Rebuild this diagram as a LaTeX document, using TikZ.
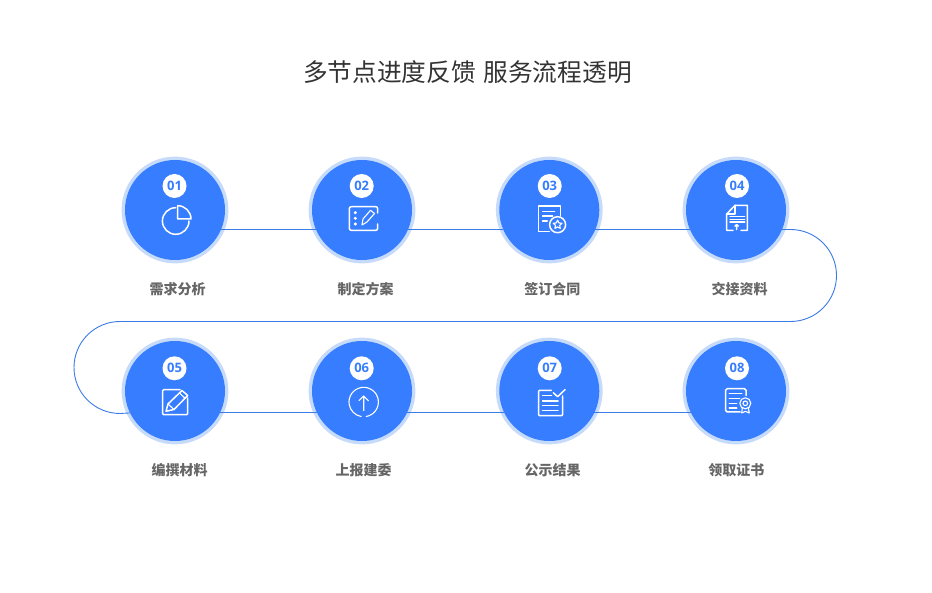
\documentclass[tikz,border=0pt]{standalone}
\usepackage{fontspec}
\setmainfont{Open Sans}
\newfontfamily\cjk{Noto Sans CJK SC}
\usetikzlibrary{backgrounds,calc}
\definecolor{mainblue}{HTML}{377DFF}
\definecolor{ringblue}{HTML}{C6DAFA}
\definecolor{linkblue}{HTML}{3B7BE6}
\definecolor{labelgrey}{HTML}{666666}
\definecolor{titlegrey}{HTML}{333333}
\tikzset{
  x=1pt,y=-1pt,
  stepdisc/.style={circle,fill=mainblue,draw=none,minimum size=100pt,inner sep=0pt,outer sep=0pt},
  ring/.style={fill=ringblue,draw=none},
  numdisc/.style={circle,fill=white,minimum size=24pt,inner sep=0pt,text=mainblue,font=\fontsize{13}{13}\selectfont\bfseries},
  steplabel/.style={text=labelgrey,font=\cjk\fontsize{14}{14}\selectfont\bfseries,inner sep=0pt},
  titletext/.style={text=titlegrey,font=\cjk\fontsize{24.7}{24.7}\selectfont,inner sep=0pt},
  link/.style={draw=linkblue,line width=0.9pt},
  icon/.style={draw=white,line width=1.5pt,line join=round,line cap=round},
  iconthin/.style={draw=white,line width=1.1pt,line join=round,line cap=round},
  dotfill/.style={fill=white,draw=none},
}
\begin{document}
\begin{tikzpicture}
\useasboundingbox (0,0) rectangle (932,593);
\node[titletext] (title) at (467.5,72) {多节点进度反馈\hspace{2pt} 服务流程透明};

\node[stepdisc] (c1) at (175,210) {};
\node[stepdisc] (c2) at (362,210) {};
\node[stepdisc] (c3) at (549.3,210) {};
\node[stepdisc] (c4) at (736,210) {};
\node[stepdisc] (c5) at (175,391) {};
\node[stepdisc] (c6) at (362,391) {};
\node[stepdisc] (c7) at (549.3,391) {};
\node[stepdisc] (c8) at (736,391) {};

\node[numdisc] (n1) at (174.5,186) {01};
\node[numdisc] (n2) at (361.7,186) {02};
\node[numdisc] (n3) at (549.7,186) {03};
\node[numdisc] (n4) at (737,186) {04};
\node[numdisc] (n5) at (174.5,368.3) {05};
\node[numdisc] (n6) at (361.7,368.3) {06};
\node[numdisc] (n7) at (549.7,368.3) {07};
\node[numdisc] (n8) at (737,368.3) {08};

\node[steplabel] (l1) at (177.5,289) {需求分析};
\node[steplabel] (l2) at (365.7,289) {制定方案};
\node[steplabel] (l3) at (552.3,289) {签订合同};
\node[steplabel] (l4) at (739.7,289) {交接资料};
\node[steplabel] (l5) at (179.7,470) {编撰材料};
\node[steplabel] (l6) at (363.7,470) {上报建委};
\node[steplabel] (l7) at (552.7,470) {公示结果};
\node[steplabel] (l8) at (736.3,470) {领取证书};

\coordinate (turnr) at (790.5,229.5);
\coordinate (turnl) at (120,321.5);
\begin{scope}[on background layer]
  \foreach \d in {c1,c2,c3,c4,c5,c6,c7,c8}
    \fill[ring] (\d) circle[radius=53.4pt];
  \draw[link] (c1.-23) -- (c2.203);
  \draw[link] (c2.-23) -- (c3.203);
  \draw[link] (c3.-23) -- (c4.203);
  \draw[link] (c4.-23) -- (turnr) arc[start angle=90,end angle=-90,radius=46pt] -- (turnl)
     arc[start angle=90,end angle=270,radius=46pt] -- (c5.206.6);
  \draw[link] (c5.-26.6) -- (c6.206.6);
  \draw[link] (c6.-26.6) -- (c7.206.6);
  \draw[link] (c7.-26.6) -- (c8.206.6);
\end{scope}

% 01 pie
\begin{scope}[shift={(c1)}]
  \draw[icon] (0.7,-2.3) arc[start angle=90,end angle=360,radius=13.3pt];
  \draw[icon] (2.7,-4.3) arc[start angle=90,end angle=0,radius=13.3pt] -- (2.7,9) -- cycle;
\end{scope}
% 02 note + pencil
\begin{scope}[shift={(c2)}]
  \draw[icon,rounded corners=2pt] (15.7,3) -- (15.7,-3.3) -- (-12.7,-3.3) -- (-12.7,20.3) -- (15.7,20.3) -- (15.7,14);
  \fill[dotfill] (-6.7,2.7) circle[radius=1.7pt] (-6.7,8.3) circle[radius=1.7pt] (-6.7,14) circle[radius=1.7pt];
  \draw[iconthin] (0,15) -- (1,9) -- (8.5,0.3) -- (12.5,3.5) -- (5,12) -- cycle;
\end{scope}
% 03 document + star badge
\begin{scope}[shift={(c3)}]
  \draw[icon] (11.3,6) -- (11.3,-4) -- (-10.7,-4) -- (-10.7,21.7) -- (0,21.7);
  \draw[icon] (-6.7,1.3) -- (5.3,1.3) (-6.7,6) -- (3.3,6) (-6.7,11) -- (-2,11);
  \draw[icon] (8.3,14.7) circle[radius=8pt];
  \draw[iconthin] plot[samples at={0,...,10},variable=\k]
    ({8.3+(mod(\k,2)==0?4.6:2.2)*sin(36*\k)},{14.7-(mod(\k,2)==0?4.6:2.2)*cos(36*\k)});
\end{scope}
% 04 page with fold + arrow
\begin{scope}[shift={(c4)}]
  \draw[icon] (-3,20.3) -- (-9.3,20.3) -- (-9.3,4) -- (-1,-4.7) -- (11.3,-4.7) -- (11.3,20.3) -- (5,20.3);
  \draw[icon] (-1,-4.7) -- (-1,4) -- (-9.3,4);
  \draw[icon] (-6,6.7) -- (8.7,6.7);
  \draw[icon] (-6,9.3) -- (8.7,9.3);
  \draw[icon] (-6,11.9) -- (8.7,11.9);
  \draw[icon] (0.7,19.5) -- (0.7,15) (-1,16.2) -- (0.7,14.6) -- (2.4,16.2);
\end{scope}
% 05 box + pencil
\begin{scope}[shift={(c5)}]
  \draw[icon,rounded corners=1pt] (5,-1.3) -- (-12.3,-1.3) -- (-12.3,23.7) -- (12.7,23.7) -- (12.7,7);
  \draw[icon] (-9,20.3) -- (-7,13) -- (7,-0.5) -- (12.7,4.5) -- (-1,18.5) -- cycle;
  \draw[iconthin] (-7,13) -- (-1,18.5) (4.5,2) -- (10,7.2);
\end{scope}
% 06 circle + up arrow
\begin{scope}[shift={(c6)}]
  \draw[iconthin] (4.25,25.5) arc[start angle=280,end angle=620,radius=14.7pt];
  \draw[iconthin] (1.7,19.5) -- (1.7,5) (-3,9.7) -- (1.7,5) -- (6.4,9.7);
\end{scope}
% 07 list + check
\begin{scope}[shift={(c7)}]
  \draw[icon,rounded corners=1pt] (2,-0.7) -- (-10.7,-0.7) -- (-10.7,24.7) -- (13.3,24.7) -- (13.3,5);
  \draw[icon] (-6.7,4.3) -- (2.3,4.3) (-6.7,10) -- (8.7,10) (-6.7,14.3) -- (8.7,14.3) (-6.7,19.3) -- (8.7,19.3);
  \draw[icon] (4,1.7) -- (8.3,5.7) -- (15.7,-1.3);
\end{scope}
% 08 certificate
\begin{scope}[shift={(c8)}]
  \draw[icon,rounded corners=1.5pt] (10,4.5) -- (10,-2.3) -- (-10.3,-2.3) -- (-10.3,21) -- (4,21);
  \draw[icon] (-6.7,2.7) -- (5.7,2.7) (-6.7,7.7) -- (3.7,7.7) (-6.7,12.7) -- (0.7,12.7) (-6.7,17) -- (0.7,17);
  \draw[iconthin] (9.3,12.3) circle[radius=5.5pt];
  \draw[iconthin] (9.3,12.3) circle[radius=2.3pt];
  \draw[iconthin] (6.3,17) -- (5.7,22) -- (9.3,20.3) -- (13.3,22) -- (12.3,17);
\end{scope}
\end{tikzpicture}
\end{document}
